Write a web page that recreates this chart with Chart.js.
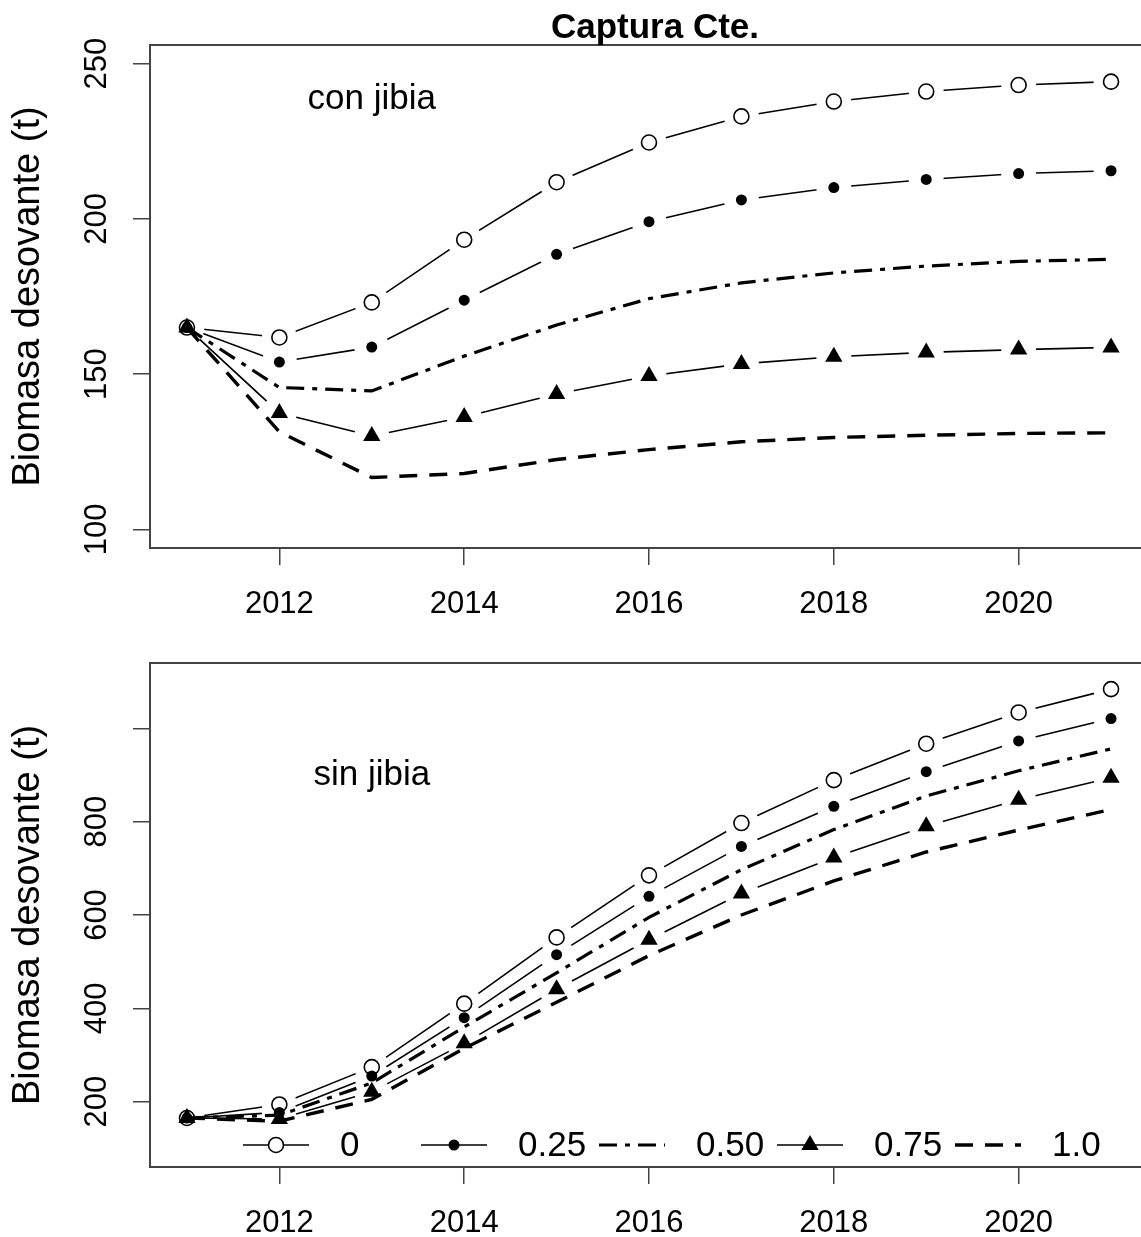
<!DOCTYPE html>
<html>
<head>
<meta charset="utf-8">
<script src="https://cdn.jsdelivr.net/npm/chart.js@4.4.1/dist/chart.umd.min.js"></script>
<style>
  html, body { margin: 0; padding: 0; background: #fff; overflow: hidden; width: 1141px; height: 1237px; }
  canvas { position: absolute; left: 0; }
  #conChart { top: 0; }
  #sinChart { top: 618px; }
</style>
</head>
<body>
<canvas id="conChart" width="1160" height="618"></canvas>
<canvas id="sinChart" width="1160" height="619"></canvas>
<script>
// --- data ---
const years = [2011, 2012, 2013, 2014, 2015, 2016, 2017, 2018, 2019, 2020, 2021];
const xTicks = [2012, 2014, 2016, 2018, 2020];
const seriesLabels = ['0', '0.25', '0.50', '0.75', '1.0'];

// con jibia (top panel)
const con0   = [165, 161.8, 173.1, 193.3, 211.8, 224.6, 233.0, 237.8, 241.0, 243.1, 244.2];
const con25  = [165, 153.9, 158.7, 173.8, 188.6, 199.1, 206.1, 210.1, 212.7, 214.6, 215.5];
const con50  = [165, 145.7, 144.6, 155.8, 165.8, 174.3, 179.4, 182.6, 184.8, 186.3, 187.0];
const con75  = [165, 137.5, 130.1, 136.2, 143.6, 149.4, 153.3, 155.6, 157.0, 157.9, 158.6];
const con100 = [165, 131.4, 116.7, 118.0, 122.5, 125.7, 128.2, 129.6, 130.3, 130.9, 131.1];
const conYTicks = [100, 150, 200, 250];
const conYLabels = ['100', '150', '200', '250'];

// sin jibia (bottom panel)
const sin0   = [165, 194, 274, 410, 552, 685, 797, 889, 967, 1034, 1084];
const sin25  = [165, 177, 255, 380, 515, 640, 747, 833, 907, 973, 1021];
const sin50  = [165, 171, 240, 360, 476, 595, 697, 783, 855, 909, 956];
const sin75  = [165, 163, 221, 325, 441, 547, 646, 723, 790, 847, 894];
const sin100 = [165, 158, 205, 314, 413, 513, 600, 673, 735, 782, 826];
const sinYTicks = [200, 400, 600, 800, 1000];
const sinYLabels = ['200', '400', '600', '800', ''];

const FONT = "'Liberation Sans', Arial, Helvetica, sans-serif";

// line / marker look of each scenario (R type="b" with gaps for the marked ones)
const seriesStyle = [
  { lw: 1.6, dash: [],            point: 'circle',   r: 7.5, fill: 'rgba(0,0,0,0)', pw: 1.6 },
  { lw: 1.6, dash: [],            point: 'circle',   r: 5.5, fill: '#000',          pw: 0 },
  { lw: 3.2, dash: [18, 8, 5, 8], point: null },
  { lw: 1.6, dash: [],            point: 'triangle', r: 10,  fill: '#000',          pw: 0 },
  { lw: 3.4, dash: [18, 12],      point: null }
];
const GAP = 17.5;

function buildDatasets(seriesList) {
  const out = [];
  seriesList.forEach((vals, i) => {
    const st = seriesStyle[i];
    const pts = years.map((x, j) => ({ x: x, y: vals[j] }));
    out.push({
      label: seriesLabels[i], data: pts, showLine: true,
      borderColor: '#000', borderWidth: st.lw, borderDash: st.dash,
      pointRadius: 0, tension: 0, fill: false,
      gap: st.point ? GAP : 0, order: 100 - out.length
    });
    if (st.point) {
      out.push({
        label: seriesLabels[i] + ' pts', data: pts, showLine: false,
        pointStyle: st.point, pointRadius: st.r,
        pointBackgroundColor: st.fill, pointBorderColor: '#000',
        pointBorderWidth: st.pw, order: 100 - out.length
      });
    }
  });
  return out;
}

// cut holes round each point of its own line, like R's type="b"
const gapPlugin = {
  id: 'gaps',
  beforeDatasetDraw(chart, args) {
    const ds = chart.data.datasets[args.index];
    if (!ds.gap) return;
    const ctx = chart.ctx;
    ctx.save();
    ctx.beginPath();
    ctx.rect(0, 0, chart.width, chart.height);
    args.meta.data.forEach(p => {
      ctx.moveTo(p.x + ds.gap, p.y);
      ctx.arc(p.x, p.y, ds.gap, 0, Math.PI * 2);
    });
    ctx.clip('evenodd');
  },
  afterDatasetDraw(chart, args) {
    if (chart.data.datasets[args.index].gap) chart.ctx.restore();
  }
};

const boxPlugin = {
  id: 'box',
  afterDatasetsDraw(chart) {
    const a = chart.chartArea, ctx = chart.ctx;
    ctx.save();
    ctx.strokeStyle = '#444';
    ctx.lineWidth = 2;
    ctx.strokeRect(a.left, a.top, a.right - a.left, a.bottom - a.top);
    ctx.restore();
  }
};

const textPlugin = {
  id: 'panelText',
  afterDraw(chart, args, opts) {
    const ctx = chart.ctx, a = chart.chartArea;
    ctx.save();
    ctx.fillStyle = '#000';
    if (opts.label) {
      ctx.font = '35px ' + FONT;
      ctx.textAlign = 'center';
      ctx.textBaseline = 'middle';
      ctx.fillText(opts.label, chart.scales.x.getPixelForValue(opts.at[0]), chart.scales.y.getPixelForValue(opts.at[1]));
    }
    if (opts.title) {
      ctx.font = 'bold 35px ' + FONT;
      ctx.textAlign = 'center';
      ctx.textBaseline = 'alphabetic';
      ctx.fillText(opts.title, (a.left + a.right) / 2 + 6, 38);
    }
    if (opts.legend) {
      const y = a.bottom - 22;
      seriesStyle.forEach((st, i) => {
        const x0 = a.left + 93 + i * 178, x1 = x0 + 66;
        ctx.strokeStyle = '#000';
        ctx.lineWidth = st.lw;
        ctx.setLineDash(st.dash);
        ctx.beginPath(); ctx.moveTo(x0, y); ctx.lineTo(x1, y); ctx.stroke();
        ctx.setLineDash([]);
        if (st.point) {
          ctx.fillStyle = st.pw ? '#fff' : '#000';
          ctx.lineWidth = st.pw;
          Chart.helpers.drawPoint(ctx, { pointStyle: st.point, radius: st.r, borderWidth: st.pw, rotation: 0 }, (x0 + x1) / 2, y);
        }
        ctx.fillStyle = '#000';
        ctx.font = '35px ' + FONT;
        ctx.textAlign = 'left';
        ctx.textBaseline = 'middle';
        ctx.fillText(seriesLabels[i], x0 + 97, y + 1);
      });
    }
    ctx.restore();
  }
};

function makePanel(id, seriesList, yMin, yMax, yTicks, yLabels, textOpts) {
  return new Chart(document.getElementById(id), {
    type: 'scatter',
    data: { datasets: buildDatasets(seriesList) },
    plugins: [gapPlugin, boxPlugin, textPlugin],
    options: {
      responsive: false,
      animation: false,
      devicePixelRatio: 1,
      events: [],
      layout: { padding: { left: 0, top: 45, right: 12, bottom: 0 } },
      plugins: {
        legend: { display: false },
        tooltip: { enabled: false },
        panelText: textOpts
      },
      scales: {
        x: {
          type: 'linear', min: 2010.6, max: 2021.4,
          afterBuildTicks: s => { s.ticks = xTicks.map(v => ({ value: v })); },
          afterFit: s => { s.height = 70; },
          border: { display: false },
          grid: { drawOnChartArea: false, drawTicks: true, tickLength: 17, color: '#444', lineWidth: 1.5 },
          ticks: {
            autoSkip: false, maxRotation: 0, padding: 21, color: '#000',
            font: { family: FONT, size: 31 },
            callback: v => String(v)
          }
        },
        y: {
          min: yMin, max: yMax,
          afterBuildTicks: s => { s.ticks = yTicks.map(v => ({ value: v })); },
          afterFit: s => { s.width = 150; },
          border: { display: false },
          grid: { drawOnChartArea: false, drawTicks: true, tickLength: 17, color: '#444', lineWidth: 1.5 },
          ticks: {
            autoSkip: false, minRotation: 90, maxRotation: 90, crossAlign: 'center',
            padding: 10, color: '#000',
            font: { family: FONT, size: 31 },
            callback: v => yLabels[yTicks.indexOf(v)]
          },
          title: {
            display: true, text: 'Biomasa desovante (t)', color: '#000',
            font: { family: FONT, size: 38 }, padding: { top: 6, bottom: 0 }
          }
        }
      }
    }
  });
}

makePanel('conChart', [con0, con25, con50, con75, con100], 94, 256, conYTicks, conYLabels,
  { label: 'con jibia', at: [2013, 238.5], title: 'Captura Cte.' });
makePanel('sinChart', [sin0, sin25, sin50, sin75, sin100], 60, 1140, sinYTicks, sinYLabels,
  { label: 'sin jibia', at: [2013, 900], legend: true });
</script>
</body>
</html>
